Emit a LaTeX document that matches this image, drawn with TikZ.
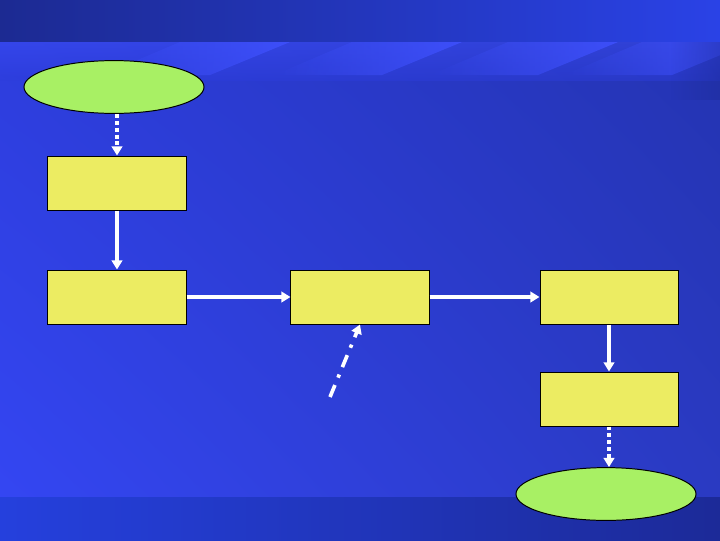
\documentclass[tikz,border=0pt]{standalone}
\usetikzlibrary{arrows.meta,shapes.geometric,shadings,fadings}

\definecolor{bandtop}{HTML}{1C2A92}
\definecolor{bandtopr}{HTML}{2A42E6}
\definecolor{bgul}{HTML}{2D3DDC}
\definecolor{bgur}{HTML}{2434B2}
\definecolor{bgll}{HTML}{3446F2}
\definecolor{bglr}{HTML}{2A3AC2}
\definecolor{bandbot}{HTML}{2540DD}
\definecolor{bandbotr}{HTML}{1C2A98}
\definecolor{streak}{HTML}{3E50FC}
\definecolor{boxfill}{HTML}{ECEC62}
\definecolor{ovalfill}{HTML}{A8F064}

\tikzset{
  stepbox/.style={draw=black,line width=0.7pt,fill=boxfill,minimum width=3.45cm,minimum height=1.35cm,inner sep=0pt},
  oval/.style={ellipse,draw=black,line width=0.7pt,fill=ovalfill,minimum width=4.5cm,minimum height=1.32cm,inner sep=0pt},
  flow/.style={white,line width=2.6pt,-{Triangle[width=7.5pt,length=6.5pt]}},
  dotflow/.style={flow,line width=3pt,dash pattern=on 2.8pt off 2.1pt},
  dashdotflow/.style={flow,dash pattern=on 9.2pt off 5.7pt on 2.4pt off 5.7pt}
}

\begin{document}
\begin{tikzpicture}[x=0.025cm,y=-0.025cm]
\useasboundingbox (0,0) rectangle (720,540);

\shade[left color=bandtop,right color=bandtopr] (0,0) rectangle (720,42);
\shade[upper left=bgul,upper right=bgur,lower left=bgll,lower right=bglr] (0,42) rectangle (720,497);
\shade[left color=bandbot,right color=bandbotr] (0,497) rectangle (720,540);

\shade[top color=streak,bottom color=bgul,opacity=0.45] (0,42) rectangle (720,80);
\foreach \sx in {180,352,508,642}
  \fill[streak,path fading=west,opacity=0.9]
    (\sx,42) -- (\sx-78,75) -- (\sx+30,75) -- (\sx+110,42) -- cycle;
\fill[bandbotr,path fading=west,opacity=0.45] (670,42) rectangle (720,100);

\node[oval] (start) at (114,87) {};
\node[stepbox] (b1) at (117,183) {};
\node[stepbox] (b2) at (117,297) {};
\node[stepbox] (b3) at (360,297) {};
\node[stepbox] (b4) at (609,297) {};
\node[stepbox] (b5) at (609,399) {};
\node[oval] (end) at (606,494) {};
\coordinate (src) at (330,397);

\draw[dotflow] (b1.north |- start.south) -- (b1.north);
\draw[flow] (b1) -- (b2);
\draw[flow] (b2) -- (b3);
\draw[flow] (b3) -- (b4);
\draw[flow] (b4) -- (b5);
\draw[dotflow] (b5.south) -- (b5.south |- end.north);
\draw[dashdotflow] (src) -- (b3.south);
\end{tikzpicture}
\end{document}
